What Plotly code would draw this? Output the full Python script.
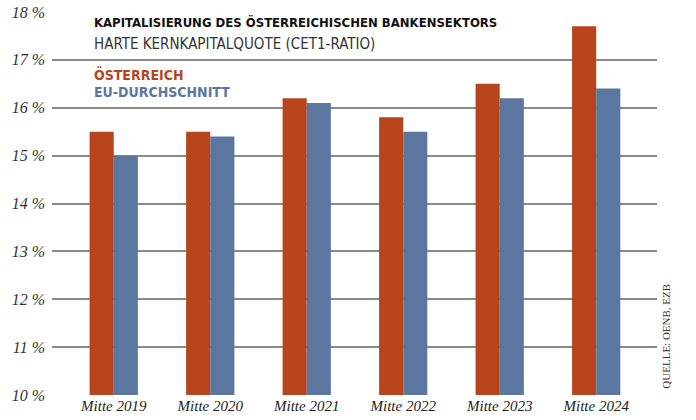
import plotly.graph_objects as go

# Daten
kategorien = ['Mitte 2019', 'Mitte 2020', 'Mitte 2021', 'Mitte 2022', 'Mitte 2023', 'Mitte 2024']
oesterreich = [15.5, 15.5, 16.2, 15.8, 16.5, 17.7]
eu_schnitt = [15.0, 15.4, 16.1, 15.5, 16.2, 16.4]
y_ticks = [10, 11, 12, 13, 14, 15, 16, 17, 18]
y_tick_labels = [f'{v} %' for v in y_ticks]

FARBE_AT = '#B8441C'
FARBE_EU = '#5B77A0'
NARROW = 'DejaVu Sans Condensed, sans-serif'
SERIF = 'Liberation Serif, DejaVu Serif, serif'

fig = go.Figure()

fig.add_trace(go.Bar(
    x=kategorien,
    y=oesterreich,
    name='Österreich',
    marker_color=FARBE_AT,
    marker_line_width=0,
))

fig.add_trace(go.Bar(
    x=kategorien,
    y=eu_schnitt,
    name='EU-Durchschnitt',
    marker_color=FARBE_EU,
    marker_line_width=0,
))

# Titel / Legende als Annotationen
texte = [
    ('<b>KAPITALISIERUNG DES ÖSTERREICHISCHEN BANKENSEKTORS</b>', 22, '#111111', 13),
    ('HARTE KERNKAPITALQUOTE (CET1-RATIO)', 44, '#333333', 15),
    ('<b>ÖSTERREICH</b>', 74, FARBE_AT, 14),
    ('<b>EU-DURCHSCHNITT</b>', 92, FARBE_EU, 14),
]
annotations = []
for txt, ypix, farbe, size in texte:
    annotations.append(dict(
        text=txt, xref='paper', yref='paper',
        x=(92 - 52) / 605, y=1 - (ypix - 12) / 383,
        xanchor='left', yanchor='middle', showarrow=False,
        font=dict(family=NARROW, size=size, color=farbe),
    ))

annotations.append(dict(
    text='QUELLE: OENB, EZB', xref='paper', yref='paper',
    x=(666 - 52) / 605, y=0.01, xanchor='center', yanchor='bottom',
    textangle=-90, showarrow=False,
    font=dict(family=SERIF, size=11, color='#333333'),
))

fig.update_layout(
    width=696,
    height=420,
    margin=dict(l=52, r=39, t=12, b=25),
    plot_bgcolor='white',
    paper_bgcolor='white',
    barmode='group',
    bargap=0.5,
    bargroupgap=0,
    showlegend=False,
    annotations=annotations,
    xaxis=dict(
        range=[-0.64, 5.63],
        showgrid=False,
        showline=False,
        ticks='',
        automargin=False,
        tickfont=dict(family=SERIF, size=15, color='#222222', style='italic'),
    ),
    yaxis=dict(
        range=[10, 18],
        tickvals=y_ticks,
        ticktext=y_tick_labels,
        showgrid=True,
        gridcolor='#8a8a8a',
        gridwidth=1.5,
        zeroline=False,
        ticks='',
        automargin=False,
        ticklabelstandoff=6,
        tickfont=dict(family=SERIF, size=16, color='#333333', style='italic'),
    ),
)

fig.write_html("out.html", config={'displayModeBar': False},
               post_script="document.body.style.margin='0';")
